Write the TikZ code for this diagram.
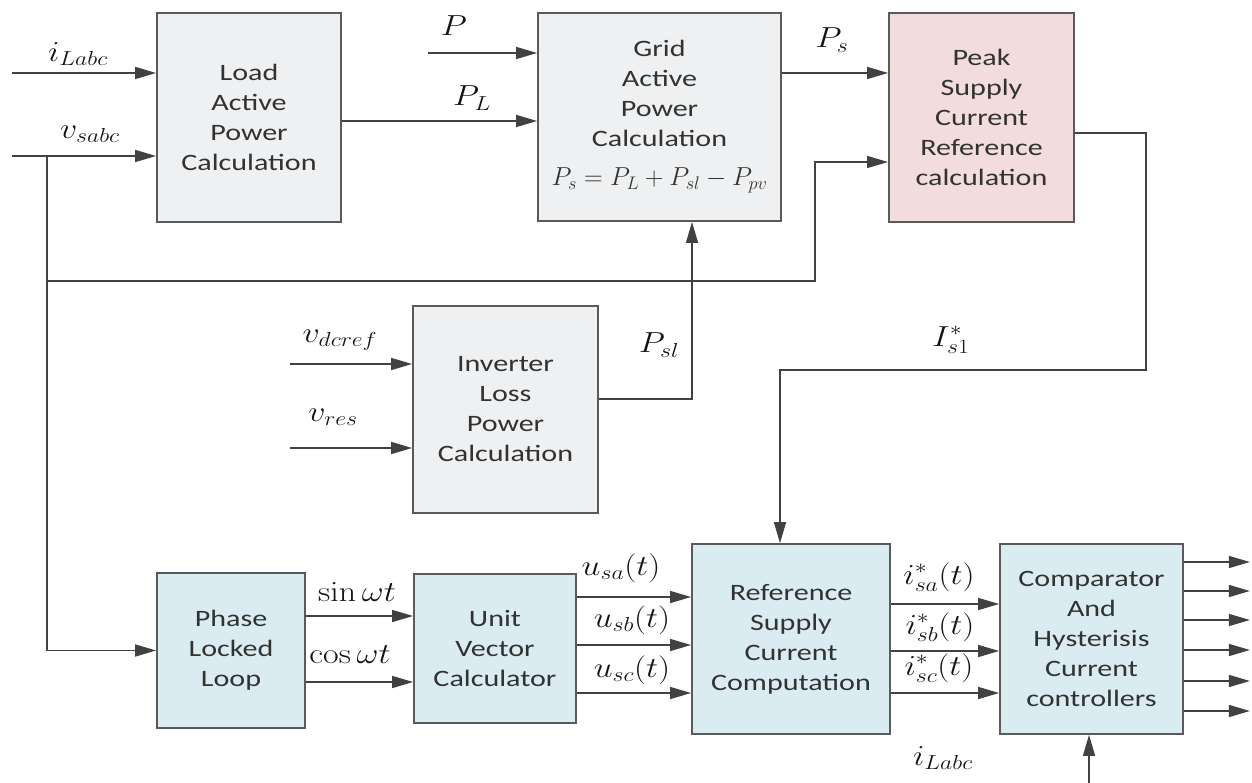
\documentclass[tikz,border=0pt]{standalone}
\usepackage{fix-cm}
\usepackage{graphicx}
\usepackage[no-math]{fontspec}
\setmainfont{Carlito}[FakeStretch=1.28]
\usetikzlibrary{arrows.meta}

\definecolor{edgec}{RGB}{90,90,90}
\definecolor{wirec}{RGB}{65,65,65}
\definecolor{boxtxt}{RGB}{50,50,50}
\definecolor{labc}{RGB}{20,20,20}
\definecolor{fillgrey}{RGB}{239,240,241}
\definecolor{fillpink}{RGB}{242,221,220}
\definecolor{fillblue}{RGB}{218,236,242}

% widened math for the signal names
\newcommand{\wlab}[1]{\scalebox{1.17}[1]{$#1$}}

\begin{document}
\begin{tikzpicture}[x=1pt,y=-1pt,
  block/.style={draw=edgec, line width=1.8pt, inner sep=0pt, align=center,
    text=boxtxt, font=\fontsize{23.5}{30}\selectfont},
  greyblk/.style={block, fill=fillgrey},
  pinkblk/.style={block, fill=fillpink},
  blueblk/.style={block, fill=fillblue},
  wire/.style={draw=wirec, line width=1.5pt},
  sig/.style={wire, -{Triangle[length=21pt,width=12pt]}},
  lab/.style={text=labc, inner sep=0pt, font=\fontsize{29}{31}\selectfont}]

\useasboundingbox (0,0) rectangle (1252,783);

% ---------- blocks ----------
\node[greyblk, minimum width=184pt, minimum height=209pt] (load) at (249,117.5)
  {Load\\Active\\Power\\Calculation};
\node[greyblk, minimum width=243pt, minimum height=208pt] (grid) at (659.5,117)
  {Grid\\Active\\Power\\Calculation\\[9pt]{\fontsize{26}{30}\selectfont$P_s = P_L + P_{sl} - P_{pv}$}};
\node[pinkblk, minimum width=185pt, minimum height=209pt] (peak) at (981.5,117.5)
  {Peak\\Supply\\Current\\Reference\\calculation};
\node[greyblk, minimum width=185pt, minimum height=207pt] (inv) at (505.5,409.5)
  {Inverter\\Loss\\Power\\Calculation};
\node[blueblk, minimum width=148pt, minimum height=155pt] (pll) at (231,650.5)
  {Phase\\Locked\\Loop};
\node[blueblk, minimum width=162pt, minimum height=149pt] (uvc) at (495,648.5)
  {Unit\\Vector\\Calculator};
\node[blueblk, minimum width=198pt, minimum height=190pt] (ref) at (791,639)
  {Reference\\Supply\\Current\\Computation};
\node[blueblk, minimum width=183pt, minimum height=190pt] (cmp) at (1091.5,639)
  {Comparator\\And\\Hysterisis\\Current\\controllers};

% ---------- free ends and bends ----------
\coordinate (iLin) at (12,73);
\coordinate (vsin) at (12,156);
\coordinate (br)   at (47,156);
\coordinate (tap)  at (47,281);
\coordinate (bend) at (815,281);
\coordinate (Pin)  at (428,53);
\coordinate (vdc)  at (290,364);
\coordinate (vre)  at (290,448);
\coordinate (turn) at (1146,370);
\coordinate (iLb)  at (1089,783);

% ---------- connectors ----------
\draw[sig] (iLin) -- (iLin -| load.west);
\draw[sig] (vsin) -- (vsin -| load.west);
\draw[sig] (br) |- (pll.west);
\draw[sig] (tap) -- (bend) |- ([yshift=-44.5pt]peak.west);
\draw[sig] ([yshift=-3.5pt]load.east) -- ([yshift=-3.5pt]load.east -| grid.west);
\draw[sig] (Pin) -- (Pin -| grid.west);
\draw[sig] ([yshift=44pt]grid.east) -- ([yshift=44pt]grid.east -| peak.west);
\draw[sig] (vdc) -- (vdc -| inv.west);
\draw[sig] (vre) -- (vre -| inv.west);
\draw[sig] ([yshift=10.5pt]inv.east) -| ([xshift=32.5pt]grid.south);
\draw[sig] ([yshift=-15.5pt]peak.east) -| (turn) -| ([xshift=-11pt]ref.north);

\draw[sig] ([yshift=34.5pt]pll.east) -- ([yshift=34.5pt]pll.east -| uvc.west);
\draw[sig] ([yshift=-31.5pt]pll.east) -- ([yshift=-31.5pt]pll.east -| uvc.west);
\foreach \s in {51.5,3.5,-44.5}
  \draw[sig] ([yshift=\s pt]uvc.east) -- ([yshift=\s pt]uvc.east -| ref.west);
\foreach \s in {35,-12,-54}
  \draw[sig] ([yshift=\s pt]ref.east) -- ([yshift=\s pt]ref.east -| cmp.west);
\foreach \s in {77,48,19,-11,-42,-72}
  \draw[sig] ([yshift=\s pt]cmp.east) -- ++(66,0);
\draw[sig] (iLb) -- (iLb |- cmp.south);

% ---------- signal labels ----------
\node[lab] (l1)  at (78,54)    {\wlab{i_{Labc}}};
\node[lab] (l2)  at (90,134)   {\wlab{v_{sabc}}};
\node[lab] (l3)  at (454,26)   {\wlab{P}};
\node[lab] (l4)  at (472,98)   {\wlab{P_L}};
\node[lab] (l5)  at (832,40)   {\wlab{P_s}};
\node[lab] (l6)  at (659,345)  {\wlab{P_{sl}}};
\node[lab] (l7)  at (340,340)  {\wlab{v_{dcref}}};
\node[lab] (l8)  at (333,417)  {\wlab{v_{res}}};
\node[lab] (l9)  at (951,340)  {\wlab{I^*_{s1}}};
\node[lab] (l10) at (357,592)  {\wlab{\sin\omega t}};
\node[lab] (l11) at (350,655)  {\wlab{\cos\omega t}};
\node[lab] (l12) at (621,568)  {\wlab{u_{sa}(t)}};
\node[lab] (l13) at (632,620)  {\wlab{u_{sb}(t)}};
\node[lab] (l14) at (632,670)  {\wlab{u_{sc}(t)}};
\node[lab] (l15) at (939,577)  {\wlab{i^*_{sa}(t)}};
\node[lab] (l16) at (940,627)  {\wlab{i^*_{sb}(t)}};
\node[lab] (l17) at (939,668)  {\wlab{i^*_{sc}(t)}};
\node[lab] (l18) at (943,758)  {\wlab{i_{Labc}}};
\end{tikzpicture}
\end{document}
